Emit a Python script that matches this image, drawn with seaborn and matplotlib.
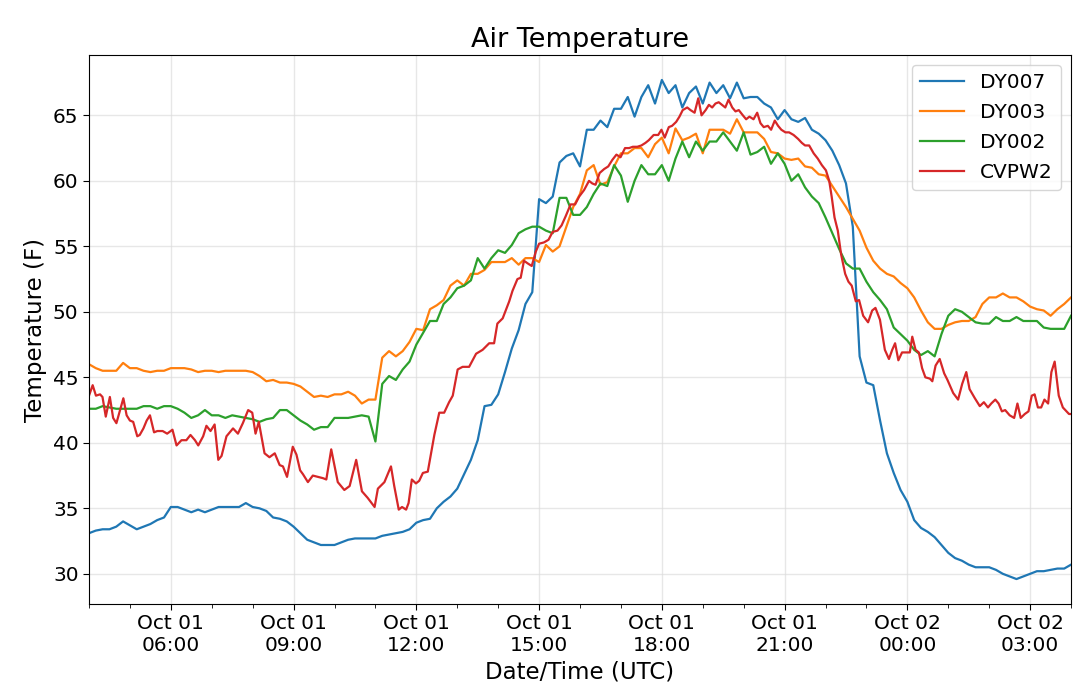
import numpy as np
import pandas as pd
import matplotlib
matplotlib.use('Agg')
import matplotlib.pyplot as plt
import matplotlib.dates as mdates
import seaborn as sns

# stations sampled every 10 minutes starting Oct 01 04:00 UTC
start = pd.Timestamp('2018-10-01 04:00')
step_minutes = 10

dy007 = [
    33.1, 33.3, 33.4, 33.4, 33.6, 34.0, 33.7, 33.4, 33.6, 33.8,
    34.1, 34.3, 35.1, 35.1, 34.9, 34.7, 34.9, 34.7, 34.9, 35.1,
    35.1, 35.1, 35.1, 35.4, 35.1, 35.0, 34.8, 34.3, 34.2, 34.0,
    33.6, 33.1, 32.6, 32.4, 32.2, 32.2, 32.2, 32.4, 32.6, 32.7,
    32.7, 32.7, 32.7, 32.9, 33.0, 33.1, 33.2, 33.4, 33.9, 34.1,
    34.2, 35.0, 35.5, 35.9, 36.5, 37.6, 38.7, 40.2, 42.8, 42.9,
    43.7, 45.4, 47.2, 48.6, 50.6, 51.5, 58.6, 58.3, 58.8, 61.4,
    61.9, 62.1, 61.1, 63.9, 63.9, 64.6, 64.1, 65.5, 65.5, 66.4,
    64.9, 66.4, 67.3, 65.9, 67.7, 66.7, 67.3, 65.6, 66.7, 67.2,
    65.9, 67.5, 66.7, 67.3, 66.3, 67.5, 66.3, 66.4, 66.4, 65.9,
    65.6, 64.7, 65.4, 64.7, 64.5, 64.8, 63.9, 63.6, 63.1, 62.3,
    61.2, 59.8, 56.5, 46.6, 44.6, 44.4, 41.7, 39.2, 37.7, 36.4,
    35.5, 34.1, 33.5, 33.2, 32.8, 32.2, 31.6, 31.2, 31.0, 30.7,
    30.5, 30.5, 30.5, 30.3, 30.0, 29.8, 29.6, 29.8, 30.0, 30.2,
    30.2, 30.3, 30.4, 30.4, 30.7,
]

dy003 = [
    46.0, 45.7, 45.5, 45.5, 45.5, 46.1, 45.7, 45.7, 45.5, 45.4,
    45.5, 45.5, 45.7, 45.7, 45.7, 45.6, 45.4, 45.5, 45.5, 45.4,
    45.5, 45.5, 45.5, 45.5, 45.4, 45.1, 44.7, 44.8, 44.6, 44.6,
    44.5, 44.3, 43.9, 43.5, 43.6, 43.5, 43.7, 43.7, 43.9, 43.6,
    43.0, 43.3, 43.3, 46.5, 47.0, 46.6, 47.0, 47.7, 48.7, 48.6,
    50.2, 50.5, 50.9, 52.0, 52.4, 52.0, 52.9, 52.9, 53.2, 53.8,
    53.8, 53.8, 54.1, 53.6, 54.1, 54.1, 53.8, 55.1, 54.6, 55.0,
    56.5, 58.0, 59.0, 60.8, 61.2, 59.7, 59.9, 61.1, 62.1, 62.1,
    62.5, 62.5, 61.8, 62.8, 63.3, 62.1, 64.0, 63.1, 63.3, 63.6,
    62.1, 63.9, 63.9, 63.9, 63.6, 64.7, 63.7, 63.7, 63.7, 63.2,
    62.2, 62.1, 61.7, 61.6, 61.7, 61.1, 61.0, 60.5, 60.4, 59.6,
    58.8, 58.0, 57.1, 56.2, 54.9, 53.9, 53.3, 52.9, 52.7, 52.2,
    51.8, 51.1, 50.1, 49.2, 48.7, 48.7, 49.0, 49.2, 49.3, 49.3,
    49.6, 50.6, 51.1, 51.1, 51.4, 51.1, 51.1, 50.8, 50.4, 50.2,
    50.1, 49.7, 50.2, 50.6, 51.1,
]

dy002 = [
    42.6, 42.6, 42.8, 42.7, 42.6, 42.6, 42.6, 42.6, 42.8, 42.8,
    42.6, 42.8, 42.8, 42.6, 42.3, 41.9, 42.1, 42.5, 42.1, 42.1,
    41.9, 42.1, 42.0, 41.9, 41.8, 41.6, 41.8, 41.9, 42.5, 42.5,
    42.1, 41.7, 41.4, 41.0, 41.2, 41.2, 41.9, 41.9, 41.9, 42.0,
    42.1, 42.0, 40.1, 44.5, 45.1, 44.8, 45.6, 46.2, 47.5, 48.4,
    49.3, 49.3, 50.6, 51.1, 51.8, 52.0, 52.4, 54.1, 53.3, 54.1,
    54.7, 54.5, 55.1, 56.0, 56.3, 56.5, 56.5, 56.2, 56.0, 58.7,
    58.7, 57.4, 57.4, 58.0, 59.0, 59.8, 59.6, 61.2, 60.4, 58.4,
    60.0, 61.2, 60.5, 60.5, 61.2, 60.0, 61.7, 63.0, 61.8, 63.0,
    62.3, 63.0, 63.0, 63.7, 63.0, 62.3, 63.7, 62.0, 62.2, 62.6,
    61.3, 62.1, 61.3, 60.0, 60.5, 59.5, 58.8, 58.3, 57.2, 56.0,
    54.8, 53.7, 53.3, 53.3, 52.3, 51.5, 50.9, 50.2, 48.8, 48.3,
    47.8, 47.1, 46.7, 47.0, 46.6, 48.3, 49.7, 50.2, 50.0, 49.6,
    49.2, 49.1, 49.1, 49.6, 49.3, 49.3, 49.6, 49.3, 49.3, 49.3,
    48.8, 48.7, 48.7, 48.7, 49.7,
]

# CVPW2 reports on its own irregular clock: hours after 04:00 and temps
cvpw2_hours = [
    0.00, 0.09, 0.17, 0.27, 0.33, 0.41, 0.51, 0.59, 0.67, 0.84,
    0.92, 1.00, 1.08, 1.18, 1.24, 1.33, 1.41, 1.49, 1.59, 1.67,
    1.80, 1.91, 2.04, 2.14, 2.26, 2.38, 2.48, 2.59, 2.67, 2.79,
    2.87, 2.97, 3.07, 3.16, 3.24, 3.36, 3.52, 3.64, 3.76, 3.89,
    3.99, 4.07, 4.15, 4.29, 4.41, 4.54, 4.66, 4.74, 4.84, 4.98,
    5.07, 5.16, 5.23, 5.35, 5.47, 5.59, 5.72, 5.80, 5.92, 6.08,
    6.24, 6.37, 6.53, 6.67, 6.81, 6.98, 7.06, 7.22, 7.38, 7.46,
    7.57, 7.65, 7.75, 7.81, 7.89, 7.99, 8.07, 8.16, 8.28, 8.36,
    8.44, 8.56, 8.68, 8.80, 8.89, 9.01, 9.13, 9.29, 9.46, 9.62,
    9.78, 9.90, 9.98, 10.11, 10.27, 10.35, 10.47, 10.55, 10.63, 10.72,
    10.82, 10.92, 11.00, 11.12, 11.23, 11.33, 11.45, 11.55, 11.65, 11.77,
    11.88, 11.98, 12.10, 12.22, 12.30, 12.38, 12.48, 12.59, 12.69, 12.79,
    12.89, 12.99, 13.10, 13.20, 13.29, 13.40, 13.50, 13.60, 13.68, 13.80,
    13.91, 13.99, 14.07, 14.17, 14.25, 14.35, 14.43, 14.51, 14.62, 14.70,
    14.80, 14.89, 14.97, 15.07, 15.15, 15.23, 15.31, 15.39, 15.47, 15.55,
    15.63, 15.72, 15.80, 15.88, 15.98, 16.06, 16.14, 16.24, 16.33, 16.41,
    16.49, 16.59, 16.67, 16.76, 16.84, 16.92, 17.02, 17.11, 17.22, 17.33,
    17.42, 17.50, 17.60, 17.71, 17.81, 17.91, 18.01, 18.09, 18.15, 18.22,
    18.30, 18.38, 18.48, 18.56, 18.64, 18.74, 18.82, 18.92, 19.04, 19.14,
    19.22, 19.33, 19.45, 19.55, 19.63, 19.70, 19.78, 19.87, 19.98, 20.06,
    20.12, 20.20, 20.28, 20.36, 20.44, 20.55, 20.61, 20.69, 20.79, 20.90,
    20.98, 21.12, 21.24, 21.34, 21.44, 21.52, 21.65, 21.77, 21.87, 21.97,
    22.05, 22.15, 22.23, 22.31, 22.39, 22.50, 22.61, 22.69, 22.77, 22.87,
    22.96, 23.04, 23.11, 23.19, 23.27, 23.35, 23.44, 23.52, 23.60, 23.70,
    23.80, 23.95, 24.00,
]
cvpw2 = [
    43.6, 44.4, 43.6, 43.7, 43.5, 42.0, 43.5, 41.9, 41.5, 43.4,
    42.1, 41.7, 41.6, 40.5, 40.6, 41.1, 41.7, 42.1, 40.8, 40.9,
    40.9, 40.7, 41.0, 39.8, 40.2, 40.2, 40.6, 40.2, 39.8, 40.5,
    41.3, 40.9, 41.4, 38.7, 39.0, 40.5, 41.1, 40.7, 41.5, 42.5,
    42.3, 40.7, 41.6, 39.2, 38.9, 39.2, 38.3, 38.2, 37.4, 39.7,
    39.1, 37.9, 37.6, 37.0, 37.5, 37.4, 37.3, 37.2, 39.5, 37.0,
    36.4, 36.7, 38.7, 36.3, 35.8, 35.1, 36.5, 37.0, 38.2, 36.7,
    34.9, 35.1, 34.9, 35.4, 37.2, 36.9, 37.1, 37.7, 37.8, 39.2,
    40.6, 42.3, 42.3, 43.1, 43.6, 45.6, 45.8, 45.8, 46.8, 47.1,
    47.6, 47.6, 49.1, 49.5, 50.8, 51.6, 52.5, 52.6, 53.9, 53.7,
    53.5, 54.6, 55.2, 55.3, 55.5, 56.1, 56.2, 56.6, 57.3, 58.2,
    58.2, 58.8, 59.3, 60.0, 59.8, 59.7, 60.6, 60.9, 61.1, 61.6,
    62.0, 61.8, 62.5, 62.5, 62.6, 62.6, 62.7, 62.9, 63.1, 63.5,
    63.5, 63.9, 63.3, 64.1, 64.2, 64.5, 64.9, 65.4, 65.6, 65.4,
    65.2, 66.3, 65.0, 65.4, 65.8, 65.6, 65.9, 66.0, 65.8, 65.6,
    66.2, 65.6, 65.3, 65.4, 65.0, 64.7, 64.9, 64.7, 65.2, 64.4,
    64.1, 64.2, 63.9, 64.6, 64.2, 63.9, 63.7, 63.7, 63.5, 63.2,
    62.9, 62.7, 62.7, 62.1, 61.7, 61.2, 60.8, 60.0, 58.8, 57.2,
    56.2, 54.4, 52.9, 52.3, 52.0, 50.8, 50.9, 49.7, 49.2, 50.1,
    50.3, 49.4, 47.1, 46.4, 47.1, 47.6, 46.3, 46.9, 46.9, 46.9,
    48.1, 47.1, 46.9, 45.7, 45.0, 44.9, 44.7, 45.9, 46.4, 45.3,
    44.8, 43.8, 43.3, 44.5, 45.4, 44.1, 43.4, 42.8, 43.1, 42.7,
    43.0, 43.3, 43.0, 42.4, 42.5, 42.1, 41.9, 43.0, 41.9, 42.2,
    42.4, 43.6, 43.7, 42.7, 42.7, 43.3, 43.0, 45.4, 46.2, 43.6,
    42.7, 42.2, 42.2,
]

stations = ['DY007', 'DY003', 'DY002', 'CVPW2']
colors = ['#1f77b4', '#ff7f0e', '#2ca02c', '#d62728']

# build one long frame for seaborn
grid_times = start + pd.to_timedelta(np.arange(len(dy007)) * step_minutes, unit='min')
frames = []
for name, vals in zip(stations[:3], [dy007, dy003, dy002]):
    frames.append(pd.DataFrame({'time': grid_times, 'temp': vals, 'station': name}))
cv_times = start + pd.to_timedelta(np.array(cvpw2_hours) * 60, unit='min')
frames.append(pd.DataFrame({'time': cv_times, 'temp': cvpw2, 'station': 'CVPW2'}))
df = pd.concat(frames, ignore_index=True)

fig, ax = plt.subplots(figsize=(10.8, 6.99), dpi=100)
fig.subplots_adjust(left=0.0824, right=0.9917, top=0.9213, bottom=0.1359)

sns.lineplot(data=df, x='time', y='temp', hue='station', hue_order=stations,
             palette=colors, estimator=None, sort=True, linewidth=1.6, ax=ax)

ax.set_xlim(df['time'].min(), df['time'].max())
ax.xaxis.set_major_locator(mdates.HourLocator(byhour=range(0, 24, 3)))
ax.xaxis.set_minor_locator(mdates.HourLocator())
ax.xaxis.set_major_formatter(mdates.DateFormatter('%b %d\n%H:%M'))
ax.tick_params(axis='both', which='major', labelsize=14.5, length=4)
ax.tick_params(axis='x', which='minor', length=3)
ax.grid(True, which='major', color='#dddddd', alpha=0.7, linewidth=1)

ax.set_title('Air Temperature', fontsize=19.5)
ax.set_xlabel('Date/Time (UTC)', fontsize=16.5)
ax.set_ylabel('Temperature (F)', fontsize=16.5)
ax.legend(loc='upper right', fontsize=14.5, handlelength=2.2, labelspacing=0.55)

fig.savefig('out.png', dpi=100)
